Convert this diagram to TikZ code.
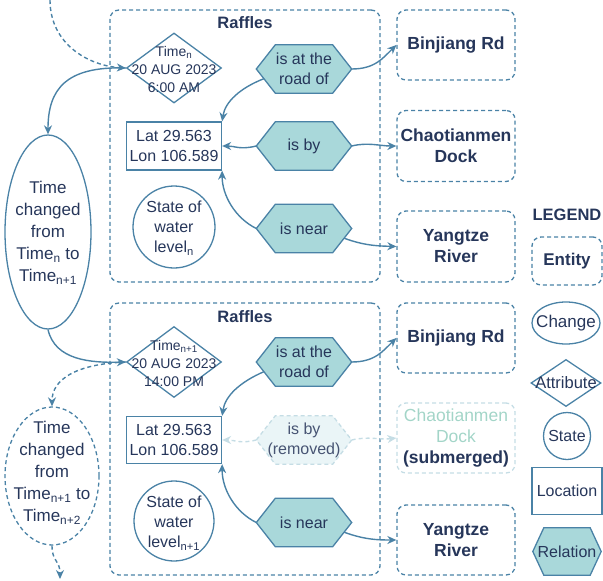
\documentclass[tikz,border=0pt]{standalone}
\usepackage{fontspec}
\setmainfont{Liberation Sans}
\usetikzlibrary{shapes.geometric,arrows.meta,calc,backgrounds}
\definecolor{ink}{HTML}{26365A}
\definecolor{edge}{HTML}{4A82A6}
\definecolor{hexfill}{HTML}{A9D8DA}
\definecolor{fadefill}{HTML}{EAF5F7}
\definecolor{fadeedge}{HTML}{C5DDE5}
\definecolor{fadetext}{HTML}{A3D5C8}
\newcommand\fA{\fontsize{16}{20}\selectfont}
\newcommand\fB{\fontsize{17.5}{21}\selectfont\bfseries}
\newcommand\fD{\fontsize{14}{18}\selectfont}
\newcommand\fE{\fontsize{17}{22}\selectfont}
\newcommand\hexpath[3]{%
  \draw[#3] (#1.west) -- ([xshift=#2]#1.north west) -- ([xshift=-#2]#1.north east) -- (#1.east) -- ([xshift=-#2]#1.south east) -- ([xshift=#2]#1.south west) -- cycle;}
\tikzset{
  dbox/.style={draw=edge, line width=1.3pt, dash pattern=on 4pt off 3pt, rounded corners=9pt, inner sep=0pt},
  entity/.style={dbox, minimum width=118pt, minimum height=70pt, font=\fB, text=ink, align=center},
  solidshape/.style={draw=edge, line width=1.3pt, inner sep=0pt},
  txt/.style={text=ink, align=center, inner sep=0pt, font=\fA},
  hexbox/.style={txt, minimum width=95pt, minimum height=48pt},
  hexst/.style={draw=edge, fill=hexfill, line width=1.3pt},
  fadehex/.style={draw=fadeedge, fill=fadefill, line width=1.3pt, dash pattern=on 4pt off 3pt},
  conn/.style={draw=edge, line width=1.4pt, -{Stealth[length=9pt,width=8pt]}},
  dconn/.style={conn, dash pattern=on 4pt off 3pt},
  fconn/.style={draw=fadeedge, line width=1.4pt, dash pattern=on 4pt off 3pt, -{Stealth[length=9pt,width=8pt]}},
  title/.style={text=ink, inner sep=0pt, font=\fontsize{16.5}{20}\selectfont\bfseries}
}
\begin{document}
\begin{tikzpicture}[x=1pt,y=-1pt]
\useasboundingbox (0,0) rectangle (603,581);
% Raffles frames
\node[dbox, minimum width=270pt, minimum height=272pt] (raf1) at (245,146) {};
\node[dbox, minimum width=270pt, minimum height=272pt] (raf2) at (245,439) {};
\node[title] (raf1t) at (245,23) {Raffles};
\node[title] (raf2t) at (245,317) {Raffles};
% entities
\node[entity] (bin1) at (456,45) {Binjiang Rd};
\node[entity, minimum height=71pt] (chao1) at (456,146) {Chaotianmen\\Dock};
\node[entity, minimum height=71pt] (yan1) at (456,246.5) {Yangtze\\River};
\node[entity] (bin2) at (456,338) {Binjiang Rd};
\node[entity, draw=fadeedge] (chao2) at (456,438) {\mdseries\color{fadetext}Chaotianmen\\\mdseries\color{fadetext}Dock\\(submerged)};
\node[entity] (yan2) at (456,540) {Yangtze\\River};
% time diamonds
\node[solidshape, diamond, minimum width=95pt, minimum height=70pt] (t1) at (174,68) {};
\node[txt, font=\fD] (t1l) at (174,69) {Time\textsubscript{n}\\20 AUG 2023\\6:00 AM};
\node[solidshape, diamond, minimum width=95pt, minimum height=71pt] (t2) at (174,362) {};
\node[txt, font=\fD] (t2l) at (174,363) {Time\textsubscript{n+1}\\20 AUG 2023\\14:00 PM};
% locations
\node[solidshape, txt, draw=edge, minimum width=95pt, minimum height=48pt] (loc1) at (174,146) {Lat 29.563\\Lon 106.589};
\node[solidshape, txt, draw=edge, minimum width=95pt, minimum height=47pt] (loc2) at (174,440) {Lat 29.563\\Lon 106.589};
% states
\node[solidshape, circle, minimum size=82pt] (st1) at (174,227) {};
\node[txt] (st1l) at (174,228) {State of\\water\\level\textsubscript{n}};
\node[solidshape, circle, minimum size=80pt] (st2) at (174,521) {};
\node[txt] (st2l) at (174,523) {State of\\water\\level\textsubscript{n+1}};
% change ellipses
\node[solidshape, ellipse, minimum width=86pt, minimum height=194pt] (ell1) at (48,232) {};
\node[txt, font=\fE] (ell1l) at (48,233) {Time\\changed\\from\\Time\textsubscript{n} to\\Time\textsubscript{n+1}};
\node[solidshape, ellipse, dash pattern=on 4pt off 3pt, minimum width=94pt, minimum height=138pt] (ell2) at (52,476) {};
\node[txt, font=\fE] (ell2l) at (52,473) {Time\\changed\\from\\Time\textsubscript{n+1} to\\Time\textsubscript{n+2}};
% relation hexagons
\node[hexbox] (h1) at (304,69) {is at the\\road of};
\node[hexbox] (h2) at (304,146) {is by};
\node[hexbox] (h3) at (304,228.5) {is near};
\node[hexbox] (h4) at (304,362) {is at the\\road of};
\node[hexbox, text=ink!85] (h5) at (304,440) {is by\\(removed)};
\node[hexbox] (h6) at (304,522.5) {is near};
% legend
\node[title] (legt) at (567,215) {LEGEND};
\node[dbox, minimum width=70pt, minimum height=48pt, font=\fontsize{17}{20}\selectfont\bfseries, text=ink] (lgent) at (567,261) {Entity};
\node[solidshape, ellipse, minimum width=68pt, minimum height=42pt] (lgch) at (566,323) {};
\node[txt, font=\fontsize{17}{20}\selectfont] (lgchl) at (566,323) {Change};
\node[solidshape, diamond, minimum width=70pt, minimum height=47pt] (lgat) at (566,383) {};
\node[txt, font=\fontsize{16.5}{20}\selectfont] (lgatl) at (566,383) {Attribute};
\node[solidshape, circle, minimum size=47pt] (lgst) at (567,436) {};
\node[txt] (lgstl) at (567,436) {State};
\node[solidshape, txt, draw=edge, minimum width=70pt, minimum height=47pt] (lgloc) at (567,491) {Location};
\node[txt, minimum width=68pt, minimum height=47pt] (lgrel) at (567,551.5) {Relation};
\begin{scope}[on background layer]
  \hexpath{h1}{19pt}{hexst}
  \hexpath{h2}{19pt}{hexst}
  \hexpath{h3}{19pt}{hexst}
  \hexpath{h4}{19pt}{hexst}
  \hexpath{h5}{19pt}{fadehex}
  \hexpath{h6}{19pt}{hexst}
  \hexpath{lgrel}{11pt}{hexst}
\end{scope}
% coordinates
\coordinate (s0) at (50,0);
\coordinate (e2) at (60,579);
\coordinate (h1a) at ($(h1.west)!0.4!([xshift=19pt]h1.south west)$);
\coordinate (h3a) at ($(h3.east)!0.4!([xshift=-19pt]h3.south east)$);
\coordinate (h4a) at ($(h4.west)!0.4!([xshift=19pt]h4.south west)$);
\coordinate (h6a) at ($(h6.east)!0.4!([xshift=-19pt]h6.south east)$);
% time connectors
\draw[dconn] (s0) .. controls (50,45) and (90,66) .. (t1.west);
\draw[conn] (t1.west) .. controls (65,66) and (48,90) .. (ell1.north);
\draw[conn] (ell1.south) .. controls (55,360) and (90,363) .. (t2.west);
\draw[dconn] (t2.west) .. controls (75,364) and (52,380) .. (ell2.north);
\draw[dconn] (ell2.south) .. controls (52,562) and (60,560) .. (e2);
% relation connectors top
\draw[conn] (h1a) .. controls (240,88) and (225,102) .. (loc1.north east);
\draw[conn] (h2.west) .. controls (240,150) and (235,146) .. (loc1.east);
\draw[conn] (h3.west) .. controls (235,218) and (222,195) .. (loc1.south east);
\draw[conn] (h1.east) .. controls (375,69) and (383,58) .. (bin1.west);
\draw[conn] (h2.east) .. controls (368,142) and (380,146) .. (chao1.west);
\draw[conn] (h3a) .. controls (365,246) and (380,246) .. (yan1.west);
% relation connectors bottom
\draw[conn] (h4a) .. controls (240,382) and (225,396) .. (loc2.north east);
\draw[fconn] (h5.west) .. controls (240,444) and (235,440) .. (loc2.east);
\draw[conn] (h6.west) .. controls (235,512) and (222,489) .. (loc2.south east);
\draw[conn] (h4.east) .. controls (375,362) and (383,351) .. (bin2.west);
\draw[fconn] (h5.east) .. controls (368,436) and (380,440) .. (chao2.west);
\draw[conn] (h6a) .. controls (365,540) and (380,540) .. (yan2.west);
\end{tikzpicture}
\end{document}
